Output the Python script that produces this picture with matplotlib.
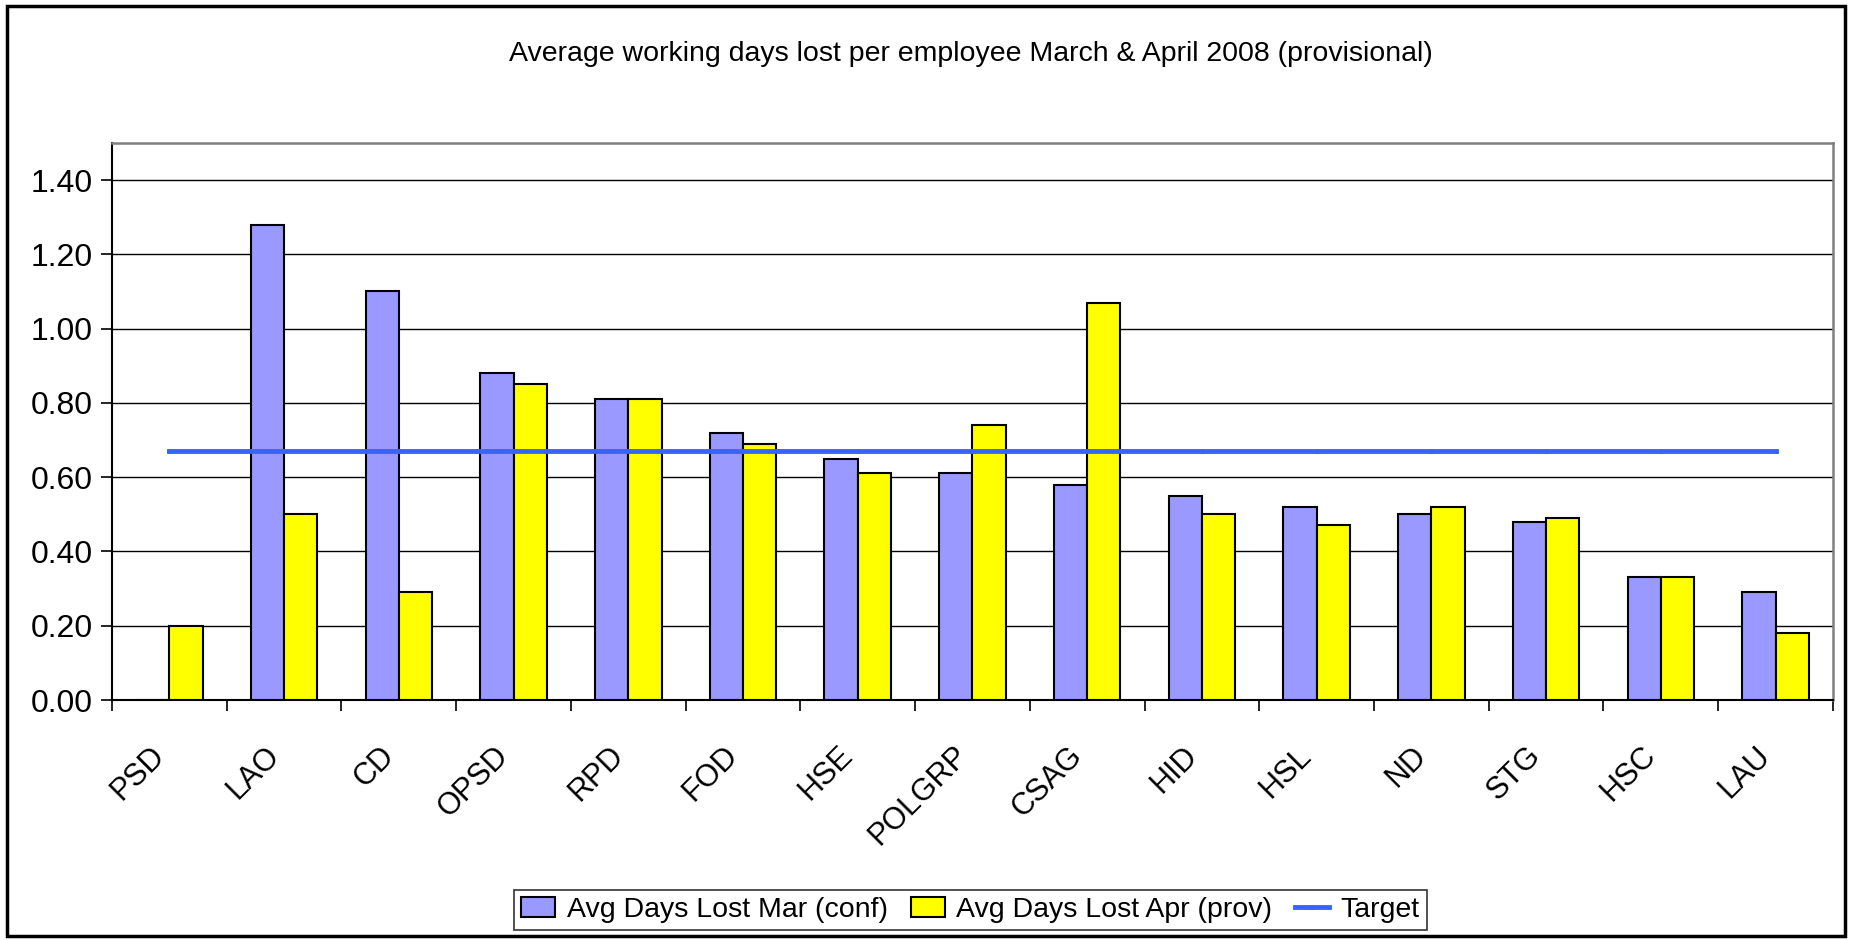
import matplotlib
matplotlib.use("Agg")
import matplotlib.pyplot as plt
import matplotlib.transforms as mtransforms
import numpy as np
from matplotlib.patches import Rectangle

# values
categories = ["PSD", "LAO", "CD", "OPSD", "RPD", "FOD", "HSE", "POLGRP",
              "CSAG", "HID", "HSL", "ND", "STG", "HSC", "LAU"]
mar_conf = [0.0, 1.28, 1.10, 0.88, 0.81, 0.72, 0.65, 0.61,
            0.58, 0.55, 0.52, 0.50, 0.48, 0.33, 0.29]
apr_prov = [0.20, 0.50, 0.29, 0.85, 0.81, 0.69, 0.61, 0.74,
            1.07, 0.50, 0.47, 0.52, 0.49, 0.33, 0.18]
target = [0.67] * len(categories)

plt.rcParams['font.family'] = ['Liberation Sans', 'DejaVu Sans']

fig = plt.figure(figsize=(18.52, 9.40), dpi=100)
ax = fig.add_axes([0.0605, 0.2553, 0.9292, 0.5927])

x = np.arange(len(categories)) + 0.5
w = 0.29
b1 = ax.bar(x - w / 2, mar_conf, w, color="#9999FF", edgecolor="black", linewidth=1.5,
            label="Avg Days Lost Mar (conf)", zorder=3)
b2 = ax.bar(x + w / 2, apr_prov, w, color="#FFFF00", edgecolor="black", linewidth=1.5,
            label="Avg Days Lost Apr (prov)", zorder=3)
ln, = ax.plot(x, target, color="#3366FF", linewidth=3.5, marker="o", markersize=2.5,
              label="Target", zorder=4)

ax.set_xlim(0, len(categories))
ax.set_ylim(0, 1.5)
ax.set_yticks(np.arange(0, 1.41, 0.2))
ax.set_yticklabels([f"{v:.2f}" for v in np.arange(0, 1.41, 0.2)], fontsize=23)
ax.yaxis.grid(True, color="black", linewidth=1.0, zorder=0)
ax.tick_params(axis="y", length=8, width=1.2, direction="out", pad=6)

ax.set_xticks(np.arange(0, len(categories) + 1))
ax.set_xticklabels([])
ax.tick_params(axis="x", which="major", length=8, width=1.2, direction="out")
ax.set_xticks(x, minor=True)
ax.set_xticklabels(categories, minor=True, rotation=45, ha="right",
                   rotation_mode="anchor", fontsize=22)
ax.tick_params(axis="x", which="minor", length=0, pad=29)
shift = mtransforms.ScaledTranslation(-0.2, 0, fig.dpi_scale_trans)
for lab in ax.get_xticklabels(minor=True):
    lab.set_transform(lab.get_transform() + shift)

for side in ["top", "right"]:
    ax.spines[side].set_color("#808080")
    ax.spines[side].set_linewidth(1.8)
for side in ["left", "bottom"]:
    ax.spines[side].set_color("black")
    ax.spines[side].set_linewidth(1.5)

fig.text(0.524, 0.943, "Average working days lost per employee March & April 2008 (provisional)",
         ha="center", va="center", fontsize=20.5)

leg = fig.legend([b1, b2, ln], [b1.get_label(), b2.get_label(), ln.get_label()],
                 loc="center", bbox_to_anchor=(0.524, 0.032), ncol=3, fontsize=20.5,
                 frameon=True, fancybox=False, handlelength=1.2, handletextpad=0.4,
                 columnspacing=0.8, borderpad=0.25)
leg.get_frame().set_edgecolor("black")
leg.get_frame().set_linewidth(1.2)

fig.patches.append(Rectangle((0.004, 0.004), 0.992, 0.99, transform=fig.transFigure,
                             fill=False, edgecolor="black", linewidth=2.5))

fig.savefig("out.png", dpi=100)
